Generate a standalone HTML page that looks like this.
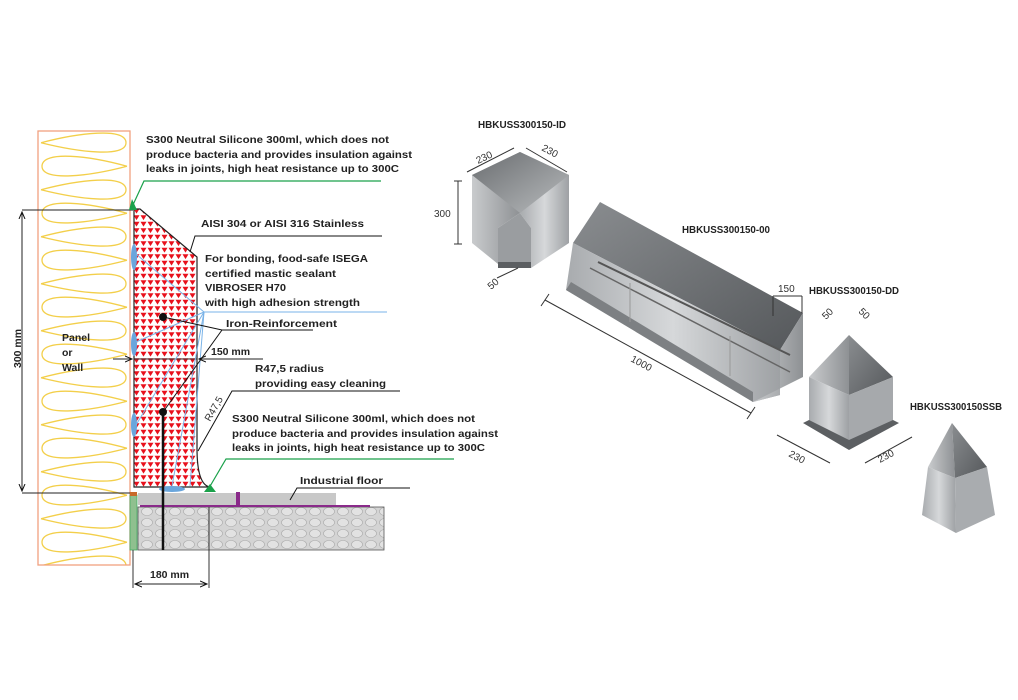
<!DOCTYPE html>
<html><head><meta charset="utf-8"><style>
html,body{margin:0;padding:0;background:#fff;width:1018px;height:700px;overflow:hidden}
svg{display:block}
.t{font-family:"Liberation Sans",sans-serif;font-weight:bold;font-size:10.5px;fill:#222}
.d{font-family:"Liberation Sans",sans-serif;font-size:10px;fill:#333}
</style></head><body>
<svg width="1018" height="700" viewBox="0 0 1018 700" xmlns="http://www.w3.org/2000/svg">
<defs>
<pattern id="tri" width="7" height="6.5" patternUnits="userSpaceOnUse">
<rect width="7" height="6.5" fill="#fff"/>
<polygon points="0.5,0.8 6.5,0.8 3.5,5.6" fill="#e8101c"/>
</pattern>
<pattern id="ins" x="38" y="131" width="92" height="47" patternUnits="userSpaceOnUse">
<path d="M3,11.75 C40,2 88,-4 88,11.75 C88,27 40,21 3,11.75" fill="none" stroke="#f3cf4a" stroke-width="1.3"/>
<path d="M89,35.25 C52,25 4,19 4,35.25 C4,51 52,45 89,35.25" fill="none" stroke="#f3cf4a" stroke-width="1.3"/>
</pattern>
<pattern id="conc" width="14" height="11" patternUnits="userSpaceOnUse">
<rect width="14" height="11" fill="#d4d4d4"/>
<ellipse cx="7" cy="5.5" rx="5.5" ry="4" fill="#e2e2e2" stroke="#aaa" stroke-width="0.6"/>
</pattern>
<linearGradient id="g1" x1="0" y1="0" x2="1" y2="1"><stop offset="0" stop-color="#6a6d70"/><stop offset="1" stop-color="#b8bbbd"/></linearGradient>
<linearGradient id="g2" x1="0" y1="0" x2="1" y2="0"><stop offset="0" stop-color="#a8abae"/><stop offset="0.5" stop-color="#d6d8da"/><stop offset="1" stop-color="#9ea1a4"/></linearGradient>
<linearGradient id="g3" x1="0" y1="0" x2="1" y2="1"><stop offset="0" stop-color="#8a8d90"/><stop offset="1" stop-color="#55585b"/></linearGradient>
<linearGradient id="g4" x1="0" y1="0" x2="1" y2="0"><stop offset="0" stop-color="#c9cbcd"/><stop offset="1" stop-color="#8e9194"/></linearGradient>
<marker id="ar" markerWidth="8" markerHeight="8" refX="7" refY="4" orient="auto-start-reverse" markerUnits="userSpaceOnUse"><path d="M0,1 L7,4 L0,7" fill="none" stroke="#111" stroke-width="1"/></marker>
</defs>

<rect x="38" y="131" width="92" height="434" fill="url(#ins)" stroke="#f0a080" stroke-width="1.3"/>

<path d="M134,209 L140,209 L197,257 L197,448 Q197,485 210,487 L134,487 Z" fill="url(#tri)" stroke="#222" stroke-width="1.2"/>
<line x1="134" y1="359" x2="197" y2="359" stroke="#333" stroke-width="1"/>
<g fill="#6aa6dc"><ellipse cx="134" cy="257" rx="3" ry="13"/><ellipse cx="134" cy="344" rx="3" ry="12"/><ellipse cx="134" cy="425" rx="3" ry="12"/><ellipse cx="172" cy="489" rx="13" ry="3"/></g>
<g stroke="#7ab3e8" stroke-width="1" fill="none">
<line x1="204" y1="312" x2="387" y2="312"/>
<line x1="204" y1="312" x2="136" y2="254"/>
<line x1="204" y1="312" x2="136" y2="342"/>
<line x1="204" y1="312" x2="136" y2="425"/>
<line x1="204" y1="312" x2="172" y2="486"/>
<line x1="204" y1="312" x2="190" y2="486"/>
</g>

<line x1="22" y1="210" x2="133" y2="210" stroke="#222"/>
<line x1="22" y1="493" x2="133" y2="493" stroke="#222"/>
<line x1="22" y1="212" x2="22" y2="491" stroke="#222" marker-start="url(#ar)" marker-end="url(#ar)"/>
<text class="t" transform="translate(21,368) rotate(-90)" font-size="11">300 mm</text>

<rect x="138" y="493" width="198" height="12" fill="#c8c8c8"/>
<rect x="138" y="507" width="246" height="43" fill="url(#conc)" stroke="#555" stroke-width="0.8"/>
<line x1="140" y1="506" x2="370" y2="506" stroke="#8a2a8a" stroke-width="2"/>
<rect x="236" y="492" width="4" height="13" fill="#8a2a8a"/>
<rect x="130" y="495" width="7" height="55" fill="#8fc08f" stroke="#4a6" stroke-width="0.8"/>
<rect x="130" y="492" width="7" height="4" fill="#c86a2a"/>

<line x1="163" y1="412" x2="163" y2="550" stroke="#111" stroke-width="2.5"/>
<circle cx="163" cy="412" r="4" fill="#111"/><circle cx="163" cy="317" r="4" fill="#111"/>
<g stroke="#111" stroke-width="1" fill="none">
<polyline points="163,317 222,330 313,330"/>
<line x1="163" y1="412" x2="222" y2="330"/>
</g>

<line x1="133" y1="550" x2="133" y2="588" stroke="#333"/>
<line x1="209" y1="507" x2="209" y2="588" stroke="#333"/>
<line x1="135" y1="584" x2="207" y2="584" stroke="#222" marker-start="url(#ar)" marker-end="url(#ar)"/>
<text class="t" x="150" y="578" font-size="11">180 mm</text>

<line x1="113" y1="359" x2="132" y2="359" stroke="#222" marker-end="url(#ar)"/>
<line x1="199" y1="359" x2="263" y2="359" stroke="#222" marker-start="url(#ar)"/>
<text class="t" x="211" y="355" font-size="11">150 mm</text>

<text class="t" x="62" y="341" font-size="11">Panel</text>
<text class="t" x="62" y="356" font-size="11">or</text>
<text class="t" x="62" y="371" font-size="11">Wall</text>

<text class="t" x="146" y="143" textLength="243" lengthAdjust="spacingAndGlyphs">S300 Neutral Silicone 300ml, which does not</text>
<text class="t" x="146" y="158" textLength="266" lengthAdjust="spacingAndGlyphs">produce bacteria and provides insulation against</text>
<text class="t" x="146" y="172" textLength="253" lengthAdjust="spacingAndGlyphs">leaks in joints, high heat resistance up to 300C</text>
<polyline points="132,207 144,181 381,181" fill="none" stroke="#1aa14a" stroke-width="1.2"/>
<polygon points="129,210 137,210 132,199" fill="#1aa14a"/>

<text class="t" x="201" y="227" textLength="163" lengthAdjust="spacingAndGlyphs">AISI 304 or AISI 316 Stainless</text>
<polyline points="190,252 195,236 382,236" fill="none" stroke="#111"/>

<text class="t" x="205" y="262" textLength="163" lengthAdjust="spacingAndGlyphs">For bonding, food-safe ISEGA</text>
<text class="t" x="205" y="277" textLength="131" lengthAdjust="spacingAndGlyphs">certified mastic sealant</text>
<text class="t" x="205" y="291" textLength="81" lengthAdjust="spacingAndGlyphs">VIBROSER H70</text>
<text class="t" x="205" y="306" textLength="155" lengthAdjust="spacingAndGlyphs">with high adhesion strength</text>
<text class="t" x="226" y="327" textLength="111" lengthAdjust="spacingAndGlyphs">Iron-Reinforcement</text>

<text class="t" x="255" y="372" textLength="69" lengthAdjust="spacingAndGlyphs">R47,5 radius</text>
<text class="t" x="255" y="387" textLength="131" lengthAdjust="spacingAndGlyphs">providing easy cleaning</text>
<polyline points="198,451 232,391 400,391" fill="none" stroke="#111"/>
<text class="d" transform="translate(210,422) rotate(-60)" font-size="11">R47,5</text>

<text class="t" x="232" y="422" textLength="243" lengthAdjust="spacingAndGlyphs">S300 Neutral Silicone 300ml, which does not</text>
<text class="t" x="232" y="437" textLength="266" lengthAdjust="spacingAndGlyphs">produce bacteria and provides insulation against</text>
<text class="t" x="232" y="451" textLength="253" lengthAdjust="spacingAndGlyphs">leaks in joints, high heat resistance up to 300C</text>
<polyline points="209,488 226,459 454,459" fill="none" stroke="#1aa14a" stroke-width="1.2"/>
<polygon points="204,492 216,492 210,484" fill="#1aa14a"/>

<text class="t" x="300" y="484" textLength="83" lengthAdjust="spacingAndGlyphs">Industrial floor</text>
<polyline points="290,500 297,488 410,488" fill="none" stroke="#111"/>

<text class="t" x="478" y="128" font-size="9" textLength="88" lengthAdjust="spacingAndGlyphs">HBKUSS300150-ID</text>
<polygon points="472,175 520,152 520,213 498,228 498,264 472,243" fill="url(#g4)"/>
<polygon points="520,152 569,175 569,243 531,268 531,228 520,213" fill="url(#g2)"/>
<polygon points="472,175 520,152 569,175 520,213" fill="url(#g1)"/>
<polygon points="498,228 520,213 531,228 531,262 498,262" fill="#9a9da0"/>
<polygon points="498,262 531,262 531,268 498,268" fill="#5c5f62"/>
<line x1="458" y1="181" x2="458" y2="244" stroke="#333"/><line x1="454" y1="181" x2="462" y2="181" stroke="#333"/><line x1="454" y1="244" x2="462" y2="244" stroke="#333"/>
<text class="d" x="434" y="217">300</text>
<line x1="467" y1="172" x2="514" y2="148" stroke="#333"/><line x1="526" y1="148" x2="567" y2="172" stroke="#333"/>
<text class="d" transform="translate(478,164) rotate(-25)">230</text>
<text class="d" transform="translate(541,150) rotate(28)">230</text>
<line x1="497" y1="278" x2="518" y2="268" stroke="#333"/>
<text class="d" transform="translate(491,290) rotate(-40)" font-size="9">50</text>

<text class="t" x="682" y="233" font-size="9" textLength="88" lengthAdjust="spacingAndGlyphs">HBKUSS300150-00</text>
<polygon points="573,243 600,202 803,313 780,350" fill="url(#g3)"/>
<polygon points="573,243 780,350 780,395 753,402 566,290" fill="url(#g2)"/>
<polygon points="566,290 753,402 753,392 571,282" fill="#7d8083"/>
<polygon points="780,350 803,313 803,377 753,402 780,395" fill="url(#g4)"/>
<line x1="590" y1="268" x2="790" y2="372" stroke="#666" stroke-width="1.5"/>
<line x1="598" y1="262" x2="790" y2="355" stroke="#555" stroke-width="2"/>
<line x1="630" y1="283" x2="630" y2="322" stroke="#999"/><line x1="730" y1="336" x2="730" y2="376" stroke="#999"/>
<line x1="545" y1="300" x2="751" y2="413" stroke="#333"/>
<line x1="541" y1="306" x2="549" y2="294" stroke="#333"/><line x1="747" y1="419" x2="755" y2="407" stroke="#333"/>
<text class="d" transform="translate(630,361) rotate(28)">1000</text>
<line x1="773" y1="296" x2="802" y2="296" stroke="#333"/><line x1="802" y1="296" x2="802" y2="313" stroke="#333"/><line x1="773" y1="296" x2="773" y2="316" stroke="#333"/>
<text class="d" x="778" y="292">150</text>
<text class="t" x="809" y="294" font-size="9" textLength="90" lengthAdjust="spacingAndGlyphs">HBKUSS300150-DD</text>

<polygon points="849,335 809,377 849,395" fill="url(#g4)"/>
<polygon points="849,335 893,377 849,395" fill="url(#g3)"/>
<polygon points="809,377 849,395 849,445 809,423" fill="url(#g2)"/>
<polygon points="849,395 893,377 893,423 849,445" fill="#a6a9ac"/>
<polygon points="803,423 809,420 849,440 893,420 899,423 849,450" fill="#5c5f62"/>
<text class="d" transform="translate(826,320) rotate(-45)" font-size="9">50</text>
<text class="d" transform="translate(858,312) rotate(45)" font-size="9">50</text>
<line x1="777" y1="435" x2="830" y2="463" stroke="#333"/>
<line x1="865" y1="463" x2="912" y2="437" stroke="#333"/>
<text class="d" transform="translate(788,456) rotate(28)">230</text>
<text class="d" transform="translate(880,463) rotate(-28)">230</text>

<text class="t" x="910" y="410" font-size="9" textLength="92" lengthAdjust="spacingAndGlyphs">HBKUSS300150SSB</text>
<polygon points="952,423 928,467 955,478" fill="url(#g4)"/>
<polygon points="952,423 987,467 955,478" fill="url(#g3)"/>
<polygon points="928,467 955,478 956,533 922,515" fill="url(#g2)"/>
<polygon points="955,478 987,467 995,515 956,533" fill="#a9acaf"/>
</svg>
</body></html>
